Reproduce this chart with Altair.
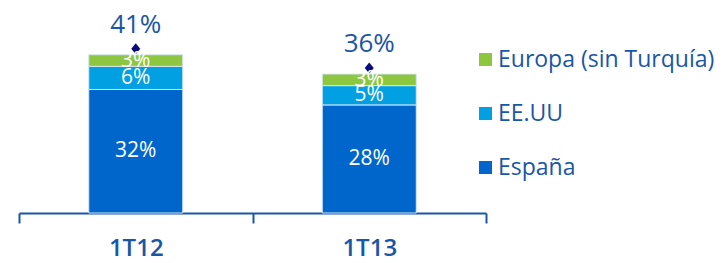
import altair as alt
import pandas as pd

quarters = ["1T12", "1T13"]
series = ["España", "EE.UU", "Europa (sin Turquía)"]
espana = [32, 28]
eeuu = [6, 5]
europa = [3, 3]
totals = [41, 36]

rows = []
for i, q in enumerate(quarters):
    for k, (s, vals) in enumerate(zip(series, [espana, eeuu, europa])):
        rows.append({"q": q, "serie": s, "v": vals[i], "ord": k, "lbl": f"{vals[i]}%"})
df = pd.DataFrame(rows)
tot = pd.DataFrame({"q": quarters, "t": totals, "lbl": [f"{t}%" for t in totals]})

FONT = "Open Sans"
BLUE_TXT = "#1a56a6"

xscale = alt.Scale(paddingInner=0, paddingOuter=0)
xenc = alt.X("q:N", sort=quarters, title=None, scale=xscale,
             axis=alt.Axis(labelAngle=0, labelFont=FONT, labelFontSize=24, labelFontWeight=600,
                           labelColor=BLUE_TXT, domainColor=BLUE_TXT, domainWidth=2,
                           tickColor=BLUE_TXT, tickWidth=2, tickSize=10, tickBand="extent",
                           labelPadding=13, grid=False))
xplain = alt.X("q:N", sort=quarters, scale=xscale)
yscale = alt.Scale(domain=[0, 50])

base = alt.Chart(df)
bars = base.mark_bar(stroke="#d6e6f5", strokeWidth=1, width=94).encode(
    x=xenc,
    y=alt.Y("v:Q", stack="zero", scale=yscale, axis=None),
    order=alt.Order("ord:Q", sort="ascending"),
    color=alt.Color("serie:N",
                    scale=alt.Scale(domain=["Europa (sin Turquía)", "EE.UU", "España"],
                                    range=["#8DC63F", "#00A0E3", "#0066CC"]),
                    legend=alt.Legend(title=None, orient="none", legendX=455, legendY=28,
                                      symbolType="square", symbolSize=169, symbolStrokeWidth=0,
                                      labelFont=FONT, labelFontSize=23, labelColor=BLUE_TXT,
                                      labelLimit=400, rowPadding=30, labelOffset=1, padding=0)),
)

seglabels = base.transform_stack(
    stack="v", groupby=["q"], as_=["y0", "y1"], sort=[alt.SortField("ord", order="ascending")]
).transform_calculate(mid="(datum.y0 + datum.y1) / 2").mark_text(
    font=FONT, fontSize=21, color="white", baseline="middle"
).encode(
    x=xplain,
    y=alt.Y("mid:Q", scale=yscale),
    text="lbl:N",
)

tbase = alt.Chart(tot)
marker = tbase.mark_point(shape="M0,-1.15L0.45,-0.6L0,-0.05L-0.45,-0.6Z", filled=True,
                          color="#0a0a80", size=400, opacity=1).encode(
    x=xplain,
    y=alt.Y("t:Q", scale=yscale),
)
totlabels = tbase.mark_text(font=FONT, fontSize=26, color=BLUE_TXT, dy=-30, baseline="middle").encode(
    x=xplain,
    y=alt.Y("t:Q", scale=yscale),
    text="lbl:N",
)

chart = alt.layer(bars, marker, seglabels, totlabels).properties(
    width=467, height=193,
    autosize=alt.AutoSizeParams(type="none"),
    padding={"left": 11, "top": 12, "right": 228, "bottom": 50},
).configure_view(stroke=None)

chart.save("out.html", embed_options={"renderer": "svg", "actions": False})
